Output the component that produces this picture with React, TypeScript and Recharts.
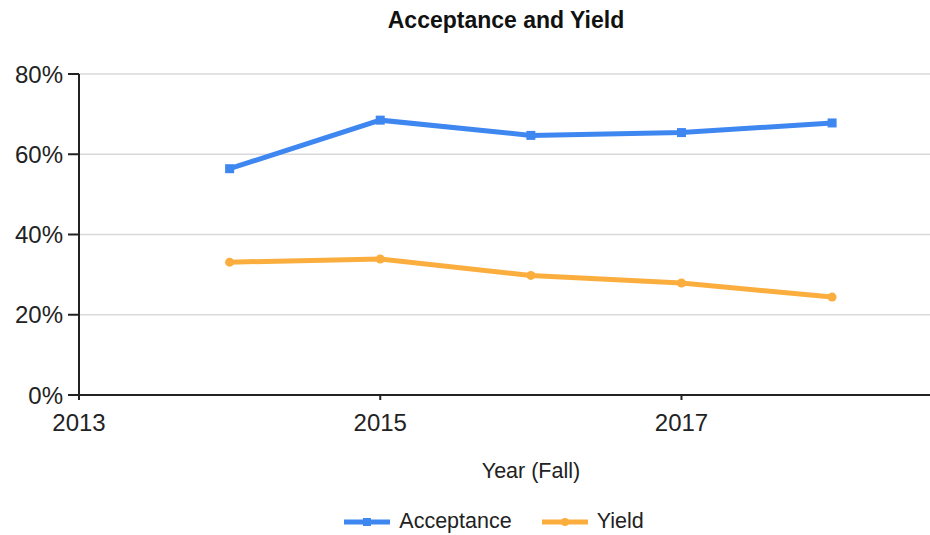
import { CartesianGrid, Legend, Line, LineChart, XAxis, YAxis } from 'recharts'

const years = [2014, 2015, 2016, 2017, 2018]
const acceptance = [56.4, 68.5, 64.7, 65.4, 67.8]
const yieldRate = [33.1, 33.9, 29.8, 27.9, 24.4]
const xTicks = [2013, 2015, 2017]
const yTicks = [0, 20, 40, 60, 80]

const data = years.map((year, i) => ({
  year,
  acceptance: acceptance[i],
  yield: yieldRate[i]
}))

const BLUE = '#3f87f0'
const ORANGE = '#fbae3e'
const FONT = '"Liberation Sans", Arial, sans-serif'

function SquareDot(props: any) {
  const { cx, cy } = props
  if (cx == null || cy == null) return null
  return <rect x={cx - 4.5} y={cy - 4.5} width={9} height={9} fill={BLUE} />
}

function RoundDot(props: any) {
  const { cx, cy } = props
  if (cx == null || cy == null) return null
  return <circle cx={cx} cy={cy} r={4.5} fill={ORANGE} />
}

function LegendContent() {
  const items = [
    { label: 'Acceptance', color: BLUE, square: true },
    { label: 'Yield', color: ORANGE, square: false }
  ]
  return (
    <div style={{ display: 'flex', justifyContent: 'center', alignItems: 'center', gap: 30, paddingTop: 14, marginLeft: 58 }}>
      {items.map((item) => (
        <div key={item.label} style={{ display: 'flex', alignItems: 'center', gap: 9 }}>
          <svg width={46} height={10}>
            <line x1={0} y1={5} x2={46} y2={5} stroke={item.color} strokeWidth={5} />
            {item.square ? (
              <rect x={19} y={1} width={8} height={8} fill={item.color} />
            ) : (
              <circle cx={23} cy={5} r={4} fill={item.color} />
            )}
          </svg>
          <span style={{ fontFamily: FONT, fontSize: 21.5, color: '#222' }}>{item.label}</span>
        </div>
      ))}
    </div>
  )
}

function AxisTitle(props: any) {
  const { viewBox } = props
  if (!viewBox) return null
  return (
    <text x={531} y={viewBox.y + 83} textAnchor="middle" fontFamily={FONT} fontSize={21.5} fill="#222">
      Year (Fall)
    </text>
  )
}

export default function App() {
  return (
    <div style={{ position: 'absolute', left: 0, top: 0, width: 930, height: 535, background: '#fff' }}>
      <div
        style={{
          position: 'absolute',
          left: 356,
          top: 9,
          width: 300,
          textAlign: 'center',
          fontFamily: FONT,
          fontWeight: 'bold',
          fontSize: 23,
          lineHeight: '23px',
          color: '#111'
        }}
      >
        Acceptance and Yield
      </div>
      <LineChart width={930} height={535} data={data} margin={{ top: 74, right: 0, bottom: 0, left: 0 }}>
        <CartesianGrid vertical={false} stroke="#d9d9d9" strokeWidth={1.5} />
        <XAxis
          dataKey="year"
          type="number"
          domain={[2013, 2018.65]}
          ticks={xTicks}
          height={100}
          stroke="#222"
          strokeWidth={2}
          tickSize={5}
          tickMargin={14}
          tick={{ fontFamily: FONT, fontSize: 24, fill: '#222' }}
          label={<AxisTitle />}
        />
        <YAxis
          domain={[0, 80]}
          ticks={yTicks}
          width={79}
          stroke="#222"
          strokeWidth={2}
          tickSize={11}
          tickMargin={5}
          tickFormatter={(v) => `${v}%`}
          tick={{ fontFamily: FONT, fontSize: 24, fill: '#222' }}
        />
        <Legend verticalAlign="bottom" height={40} content={<LegendContent />} />
        <Line
          dataKey="acceptance"
          name="Acceptance"
          stroke={BLUE}
          strokeWidth={5}
          dot={<SquareDot />}
          activeDot={false}
          isAnimationActive={false}
        />
        <Line
          dataKey="yield"
          name="Yield"
          stroke={ORANGE}
          strokeWidth={5}
          dot={<RoundDot />}
          activeDot={false}
          isAnimationActive={false}
        />
      </LineChart>
    </div>
  )
}
